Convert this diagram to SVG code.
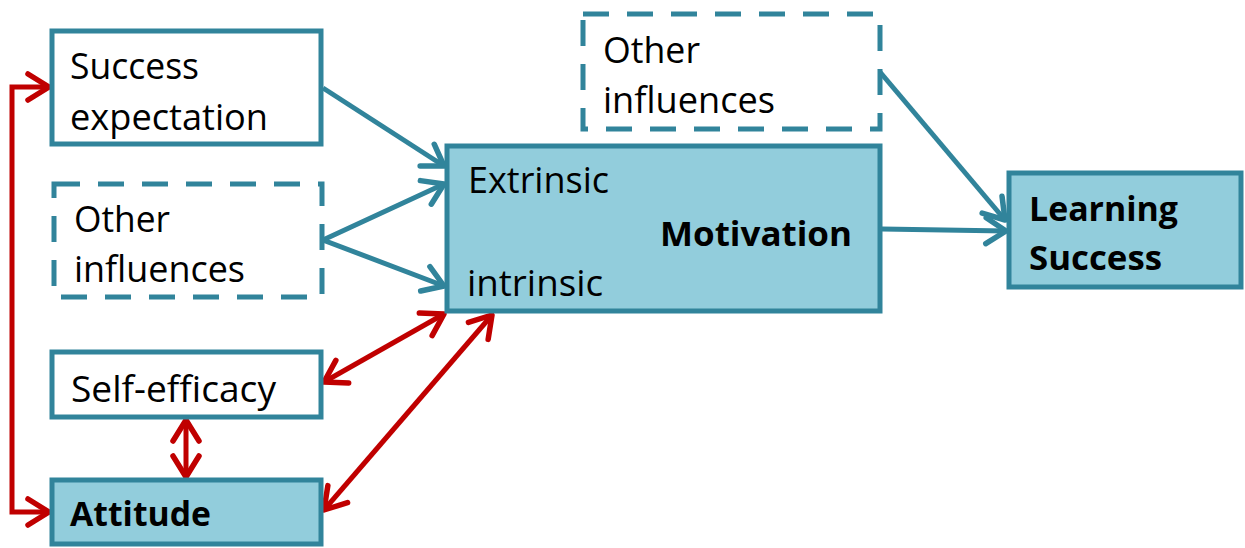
<svg xmlns="http://www.w3.org/2000/svg" width="1245" height="548" viewBox="0 0 1245 548">
<style>
.box{fill:#ffffff;stroke:#31849B;stroke-width:5}
.fill{fill:#92CDDC;stroke:#31849B;stroke-width:5}
.dash{fill:#ffffff;stroke:#31849B;stroke-width:5;stroke-dasharray:26 18}
.t{font-family:"Open Sans","Liberation Sans",sans-serif;font-size:36px;fill:#000}
.b{font-family:"Open Sans","Liberation Sans",sans-serif;font-size:34px;font-weight:bold;fill:#000}
.tl{fill:none;stroke:#31849B;stroke-width:5}
.rl{fill:none;stroke:#C00000;stroke-width:5}
</style>
<defs>
<marker id="ta" markerUnits="userSpaceOnUse" markerWidth="40" markerHeight="40" refX="0" refY="0" orient="auto-start-reverse" overflow="visible" viewBox="-30 -20 40 40">
<path d="M-20,-13 L0,0 L-20,13" fill="none" stroke="#31849B" stroke-width="5.5" stroke-linecap="round" stroke-linejoin="round"/>
</marker>
<marker id="ra" markerUnits="userSpaceOnUse" markerWidth="40" markerHeight="40" refX="0" refY="0" orient="auto-start-reverse" overflow="visible" viewBox="-30 -20 40 40">
<path d="M-21,-13 L0,0 L-21,13" fill="none" stroke="#C00000" stroke-width="5.5" stroke-linecap="round" stroke-linejoin="round"/>
</marker>
</defs>
<g id="connectors">
<line class="tl" x1="323" y1="88" x2="444" y2="166" marker-end="url(#ta)"/>
<polyline class="tl" points="444,184 323,240 444,286" marker-start="url(#ta)" marker-end="url(#ta)"/>
<line class="tl" x1="880" y1="72" x2="1005" y2="220" marker-end="url(#ta)"/>
<line class="tl" x1="882" y1="229" x2="1006" y2="231" marker-end="url(#ta)"/>
<polyline class="rl" points="49,87 12,87 12,512 49,512" marker-start="url(#ra)" marker-end="url(#ra)"/>
<line class="rl" x1="324" y1="382" x2="444" y2="314" marker-start="url(#ra)" marker-end="url(#ra)"/>
<line class="rl" x1="324" y1="510" x2="492" y2="315" marker-start="url(#ra)" marker-end="url(#ra)"/>
<line class="rl" x1="186" y1="420" x2="186" y2="477" marker-start="url(#ra)" marker-end="url(#ra)"/>
</g>
<g id="success-expectation">
<rect class="box" x="52" y="31" width="269" height="113"/>
<text class="t" x="70" y="79" textLength="129" lengthAdjust="spacingAndGlyphs">Success</text>
<text class="t" x="70" y="130" textLength="198" lengthAdjust="spacingAndGlyphs">expectation</text>
</g>
<g id="other-influences-left">
<rect class="dash" x="54" y="184" width="268" height="113"/>
<text class="t" x="74" y="232" textLength="96" lengthAdjust="spacingAndGlyphs">Other</text>
<text class="t" x="74" y="282" textLength="171" lengthAdjust="spacingAndGlyphs">influences</text>
</g>
<g id="other-influences-top">
<rect class="dash" x="583" y="14" width="297" height="115"/>
<text class="t" x="603" y="63" textLength="97" lengthAdjust="spacingAndGlyphs">Other</text>
<text class="t" x="603" y="113" textLength="172" lengthAdjust="spacingAndGlyphs">influences</text>
</g>
<g id="motivation">
<rect class="fill" x="447" y="146" width="433" height="165"/>
<text class="t" x="468" y="193" textLength="141" lengthAdjust="spacingAndGlyphs">Extrinsic</text>
<text class="b" x="660" y="246" textLength="192" lengthAdjust="spacingAndGlyphs">Motivation</text>
<text class="t" x="467" y="296" textLength="136" lengthAdjust="spacingAndGlyphs">intrinsic</text>
</g>
<g id="learning-success">
<rect class="fill" x="1009" y="173" width="232" height="114"/>
<text class="b" x="1029" y="221" textLength="149" lengthAdjust="spacingAndGlyphs">Learning</text>
<text class="b" x="1029" y="270" textLength="133" lengthAdjust="spacingAndGlyphs">Success</text>
</g>
<g id="self-efficacy">
<rect class="box" x="52" y="352" width="269" height="65"/>
<text class="t" x="71" y="402" textLength="205" lengthAdjust="spacingAndGlyphs">Self-efficacy</text>
</g>
<g id="attitude">
<rect class="fill" x="52" y="480" width="269" height="64"/>
<text class="b" x="70" y="526" textLength="141" lengthAdjust="spacingAndGlyphs">Attitude</text>
</g>
</svg>
